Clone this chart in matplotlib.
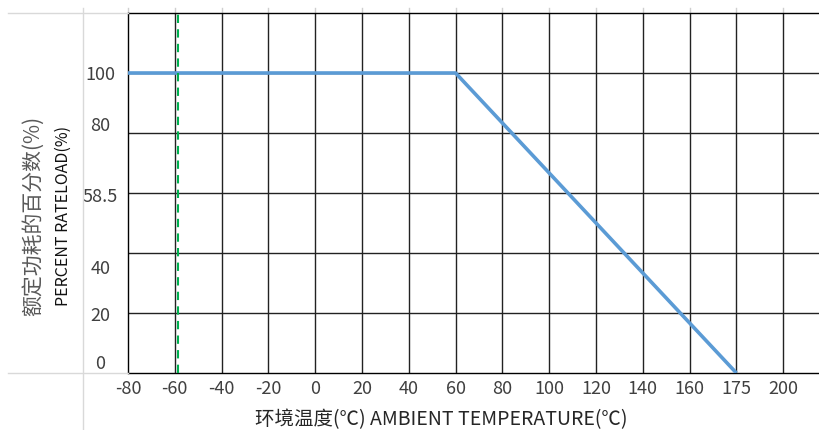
import matplotlib
matplotlib.use("Agg")
import matplotlib.pyplot as plt
import numpy as np
from matplotlib.lines import Line2D

plt.rcParams['font.family'] = ['Noto Sans CJK SC', 'DejaVu Sans']

# ---- data ----
x_tick_labels = ["-80", "-60", "-40", "-20", "0", "20", "40", "60", "80",
                 "100", "120", "140", "160", "175", "200"]
x_tick_values = [-80, -60, -40, -20, 0, 20, 40, 60, 80, 100, 120, 140, 160, 175, 200]
y_tick_labels = ["100", "80", "58.5", "40", "20", "0"]
curve_temp = [-80, 60, 175]
curve_load = [100, 100, 0]
min_temp_marker = -58.5

# ---- layout ----
W, H = 819, 430
fig = plt.figure(figsize=(W / 100, H / 100), dpi=100)
ax = fig.add_axes([128 / W, 1 - 373 / H, 1 - 128 / W, (373 - 13) / H])

slots = np.arange(len(x_tick_values))
def to_slot(t):
    return np.interp(t, x_tick_values, slots)

ax.set_xlim(0, (W - 128) / 46.8)
ax.set_ylim(0, 120)

grid_c = '#222222'
for s in slots[1:]:
    ax.axvline(s, color=grid_c, lw=1.0, zorder=1)
for yv in [20, 40, 60, 80, 100]:
    ax.axhline(yv, color=grid_c, lw=1.0, zorder=1)

# light gray stubs above the plot (sheet cell borders)
for s in slots:
    ax.plot([s, s], [120, 121.7], color='#cfcfcf', lw=1.0, clip_on=False, zorder=0)

ax.plot(to_slot(np.array(curve_temp)), curve_load, color='#5B9BD5', lw=2.6,
        solid_capstyle='butt', zorder=3)
ax.axvline(to_slot(min_temp_marker), color='#00B050', lw=1.5, ls=(0, (4, 3)), zorder=4)

for sp in ['left', 'top', 'bottom']:
    ax.spines[sp].set_color('black')
    ax.spines[sp].set_linewidth(1.0)
ax.spines['right'].set_visible(False)

ax.set_xticks(slots, x_tick_labels)
ax.tick_params(axis='x', length=0, pad=5, labelsize=13, labelcolor='#404040')

y_label_pos = [100, 83, 59.3, 35.3, 19.7, 3.7]
ax.set_yticks(y_label_pos, y_tick_labels)
ax.tick_params(axis='y', length=0, pad=20, labelsize=13, labelcolor='#404040')
for lab in ax.get_yticklabels():
    lab.set_horizontalalignment('center')

# light gray sheet lines on the left
fig.add_artist(Line2D([83 / W, 83 / W], [0, 1 - 8 / H], color='#d9d9d9', lw=1.0))
fig.add_artist(Line2D([8 / W, 128 / W], [1 - 13 / H, 1 - 13 / H], color='#d9d9d9', lw=1.0))
fig.add_artist(Line2D([8 / W, 128 / W], [1 - 373 / H, 1 - 373 / H], color='#d9d9d9', lw=1.0))

fig.text(33 / W, 1 - 216 / H, "额定功耗的百分数(%)", rotation=90, ha='center', va='center',
         fontsize=15, color='#595959')
fig.text(63 / W, 1 - 216 / H, "PERCENT RATELOAD(%)", rotation=90, ha='center', va='center',
         fontsize=11.5, color='#111111')
fig.text(441 / W, 1 - 409 / H, "环境温度(℃) AMBIENT TEMPERATURE(℃)", ha='center', va='top',
         fontsize=14, color='#262626')

fig.savefig("out.png", dpi=100)
